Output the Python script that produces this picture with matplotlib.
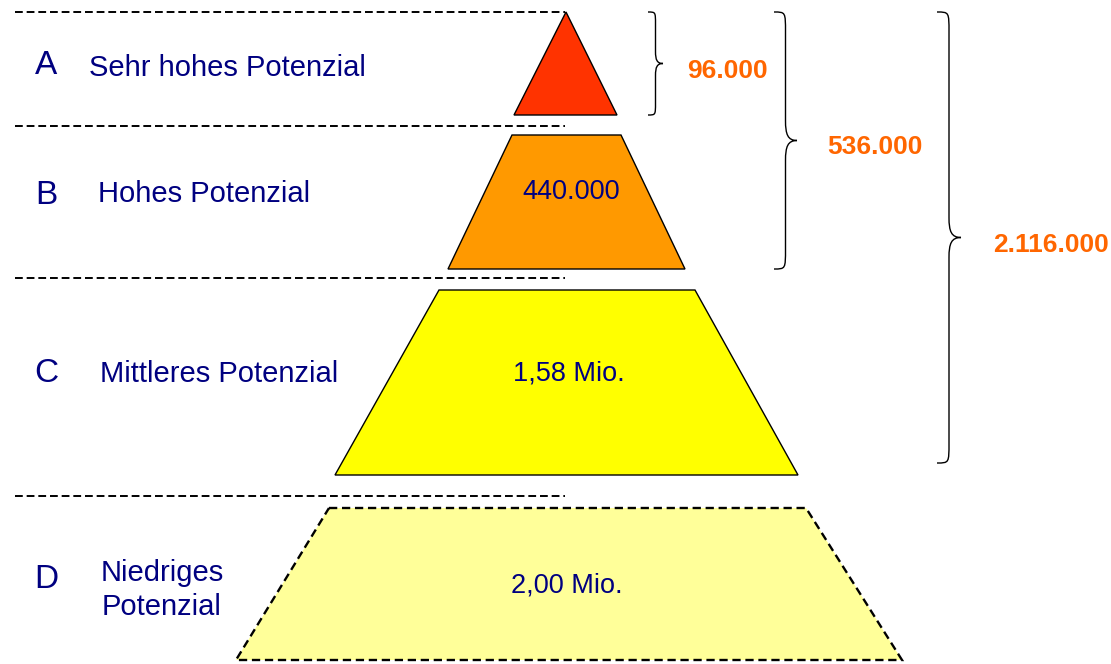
import matplotlib
matplotlib.use("Agg")
import numpy as np
import matplotlib.pyplot as plt
from matplotlib.patches import Polygon, PathPatch
from matplotlib.path import Path

plt.rcParams["font.family"] = ["Liberation Sans", "DejaVu Sans"]

# Potential classes, top to bottom
CLASSES = ["A", "B", "C", "D"]
NAMES = ["Sehr hohes Potenzial", "Hohes Potenzial", "Mittleres Potenzial", "Niedriges\nPotenzial"]
COUNTS = [96000, 440000, 1580000, 2000000]
FILLS = ["#FF3300", "#FF9900", "#FFFF00", "#FFFF99"]

NAVY = "#000080"
ORANGE = "#FF6600"

# Pyramid layout in pixel coordinates (y grows downwards)
TIER_Y = [(12, 115), (135, 269), (290, 475), (508, 660)]
TIER_TOP = [(566, 566), (512, 621), (439, 695), (329, 806)]
TIER_BOTTOM = [(514, 617), (448, 685), (335, 798), (236, 902)]
VALUE_POS = [None, (571, 192), (569, 374), (567, 585)]
SEPARATOR_Y = [12, 126, 278, 496]
LETTER_Y = [66, 195, 373, 580]
NAME_X = [89, 98, 100, 162]
NAME_Y = [68, 194, 374, 590]

# Braces for the cumulative totals
BRACE_X = [648, 774, 937]
BRACE_W = [15, 23, 24]
BRACE_TOP = 12
BRACE_BOTTOM = [115, 269, 463]
BRACE_LABEL_X = [687, 827, 993]


def de_number(v):
    return f"{v:,}".replace(",", ".")


def de_mio(v):
    return f"{v / 1e6:.2f}".replace(".", ",") + " Mio."


def brace(ax, x0, y0, y1, w, r):
    xm = x0 + w / 2
    xt = x0 + w
    ym = (y0 + y1) / 2
    verts = [(x0, y0), (xm, y0), (xm, y0), (xm, y0 + r),
             (xm, ym - r),
             (xm, ym - r * 0.3), (xm + w * 0.1, ym), (xt, ym),
             (xm + w * 0.1, ym), (xm, ym + r * 0.3), (xm, ym + r),
             (xm, y1 - r),
             (xm, y1), (xm, y1), (x0, y1)]
    codes = [Path.MOVETO, Path.CURVE4, Path.CURVE4, Path.CURVE4,
             Path.LINETO,
             Path.CURVE4, Path.CURVE4, Path.CURVE4,
             Path.CURVE4, Path.CURVE4, Path.CURVE4,
             Path.LINETO,
             Path.CURVE4, Path.CURVE4, Path.CURVE4]
    ax.add_patch(PathPatch(Path(verts, codes), fill=False, lw=1.0, ec="black"))
    return xt, ym


fig = plt.figure(figsize=(11.11, 6.64), dpi=100)
ax = fig.add_axes([0, 0, 1, 1])
ax.set_xlim(0, 1111)
ax.set_ylim(664, 0)
ax.axis("off")

# separators and row labels
for i, cls in enumerate(CLASSES):
    ax.plot([15, 565], [SEPARATOR_Y[i]] * 2, color="black", lw=1.4,
            linestyle=(0, (4, 2)))
    ax.text(46, LETTER_Y[i], cls, color=NAVY, fontsize=24, ha="center", va="center")
    if "\n" in NAMES[i]:
        ax.text(NAME_X[i], NAME_Y[i], NAMES[i], color=NAVY, fontsize=21,
                ha="center", va="center", multialignment="center", linespacing=1.25)
    else:
        ax.text(NAME_X[i], NAME_Y[i], NAMES[i], color=NAVY, fontsize=21,
                ha="left", va="center")

# pyramid tiers
for i, v in enumerate(COUNTS):
    y0, y1 = TIER_Y[i]
    pts = [(TIER_TOP[i][0], y0), (TIER_TOP[i][1], y0),
           (TIER_BOTTOM[i][1], y1), (TIER_BOTTOM[i][0], y1)]
    dashed = i == len(COUNTS) - 1
    ax.add_patch(Polygon(pts, closed=True, fc=FILLS[i], ec="black",
                         lw=1.7 if dashed else 1.0,
                         linestyle=(0, (3.5, 2)) if dashed else "-"))
    if VALUE_POS[i] is not None:
        label = de_number(v) if v < 1e6 else de_mio(v)
        ax.text(*VALUE_POS[i], label, color=NAVY, fontsize=19.5,
                ha="center", va="center")

# cumulative totals
totals = np.cumsum(COUNTS[:3])
for i, t in enumerate(totals):
    xt, ym = brace(ax, BRACE_X[i], BRACE_TOP, BRACE_BOTTOM[i], BRACE_W[i],
                   12 if i == 0 else 20)
    ax.text(BRACE_LABEL_X[i], ym + 7, de_number(int(t)), color=ORANGE,
            fontsize=19, fontweight="bold", ha="left", va="center")

fig.savefig("out.png", dpi=100)
